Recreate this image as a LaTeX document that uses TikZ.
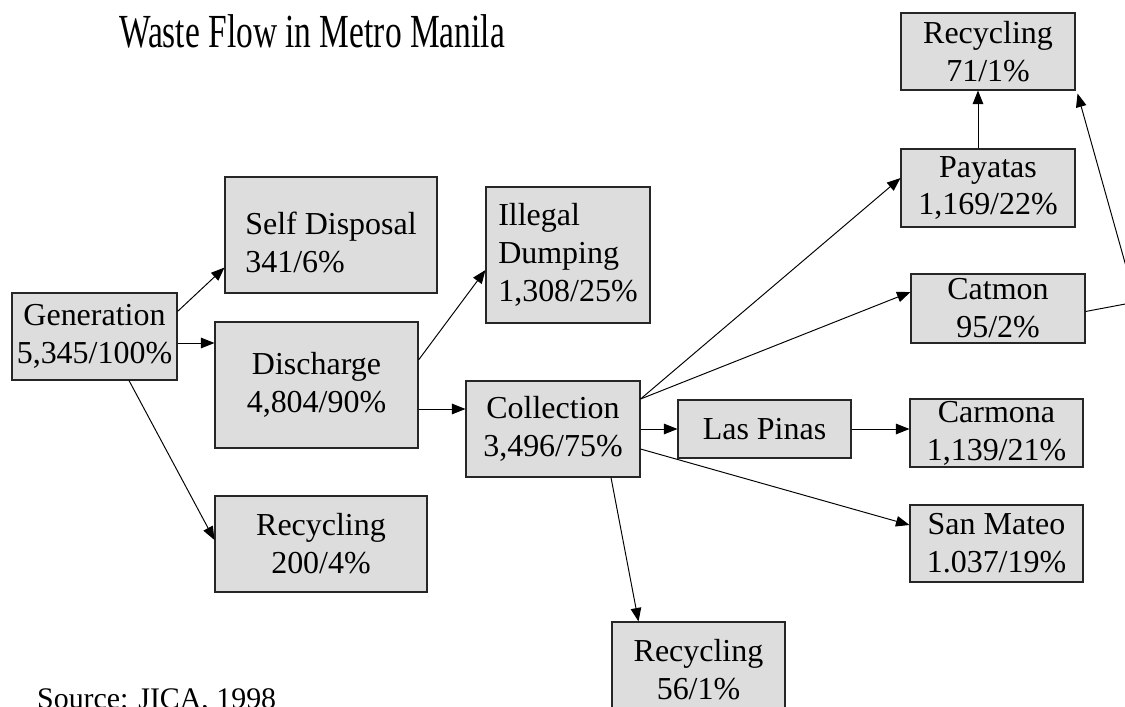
\documentclass[tikz,border=0pt]{standalone}
\usepackage{fontspec}
\setmainfont{Liberation Serif}
\newfontfamily\titlefont[FakeStretch=0.705]{Liberation Serif}
\usetikzlibrary{arrows.meta}

\definecolor{boxgray}{HTML}{DDDDDD}

\tikzset{
	box/.style={draw=black!85, fill=boxgray, line width=0.6pt, inner sep=0pt, align=center},
	flow/.style={->, line width=0.55pt},
	>={Triangle[length=0.27cm, width=0.21cm]}
}

\begin{document}
\begin{tikzpicture}[font=\fontsize{18.2}{21.6}\selectfont]
			\useasboundingbox (0,0) rectangle (22.5,-14.12);
			
			\node (title) at (2.26,-0.96)[anchor=base west, font=\titlefont\fontsize{27}{32}\selectfont]{Waste Flow in Metro Manila};
			\node (src) at (0.62,-14.16)[anchor=base west, font=\fontsize{17}{20}\selectfont]{Source: JICA, 1998};
			
			\node (gen) at (1.89,-6.73)[box, minimum width=3.3cm, minimum height=1.74cm]{Generation\\5,345/100\%};
			\node (self) at (6.62,-4.70)[box, align=left, minimum width=4.24cm, minimum height=2.32cm]{\rule{0pt}{0.76cm}Self Disposal\\341/6\%};
			\node (dis) at (6.33,-7.70)[box, minimum width=4.06cm, minimum height=2.52cm]{Discharge\\4,804/90\%};
			\node (rec1) at (6.42,-10.88)[box, minimum width=4.24cm, minimum height=1.92cm]{Recycling\\200/4\%};
			
			\node (ill) at (11.36,-5.10)[box, align=left, minimum width=3.28cm, minimum height=2.72cm]{Illegal\\Dumping\\1,308/25\%};
			\node (col) at (11.06,-8.58)[box, minimum width=3.48cm, minimum height=1.92cm]{Collection\\3,496/75\%};
			\node (rec2) at (13.97,-13.40)[box, minimum width=3.46cm, minimum height=1.92cm]{Recycling\\56/1\%};
			\node (las) at (15.29,-8.58)[box, minimum width=3.46cm, minimum height=1.16cm]{Las Pinas};
			
			\node (rectop) at (19.76,-1.03)[box, minimum width=3.48cm, minimum height=1.54cm]{Recycling\\71/1\%};
			\node (pay) at (19.76,-3.76)[box, minimum width=3.48cm, minimum height=1.56cm]{Payatas\\1,169/22\%};
			\node (cat) at (19.96,-6.17)[box, minimum width=3.48cm, minimum height=1.38cm]{Catmon\\95/2\%};
			\node (car) at (19.93,-8.66)[box, minimum width=3.46cm, minimum height=1.36cm]{Carmona\\1,139/21\%};
			\node (san) at (19.93,-10.87)[box, minimum width=3.46cm, minimum height=1.54cm]{San Mateo\\1.037/19\%};
			\coordinate (jn) at (22.72,-6.04);
			
			% generation and discharge
			\draw[flow] ([yshift=-0.38cm]gen.north east) -- ([yshift=0.52cm]self.south west);
			\draw[flow] ([yshift=-0.13cm]gen.east) -- ([yshift=-0.13cm]gen.east -| dis.west);
			\draw[flow] ([xshift=0.69cm]gen.south) -- ([yshift=0.08cm]rec1.west);
			\draw[flow] ([yshift=0.5cm]dis.east) -- ([yshift=-0.3cm]ill.west);
			\draw[flow] ([yshift=-0.48cm]dis.east) -- ([yshift=-0.48cm]dis.east -| col.west);
			
			% collection
			\draw[flow] ([yshift=0.6cm]col.east) -- ([yshift=0.2cm]pay.west);
			\draw[flow] ([yshift=0.6cm]col.east) -- ([yshift=0.33cm]cat.west);
			\draw[flow] (col.east) -- (las.west);
			\draw[flow] ([yshift=-0.4cm]col.east) -- ([yshift=0.37cm]san.west);
			\draw[flow] ([xshift=1.16cm]col.south) -- ([xshift=-1.2cm]rec2.north);
			\draw[flow] (las.east) -- (las.east -| car.west);
			
			% disposal sites
			\draw[flow] ([xshift=-0.2cm]pay.north) -- ([xshift=-0.2cm]rectop.south);
			\draw[flow] ([yshift=-0.06cm]cat.east) -- (jn) -- ([xshift=0.04cm,yshift=-0.06cm]rectop.south east);
		\end{tikzpicture}
\end{document}
